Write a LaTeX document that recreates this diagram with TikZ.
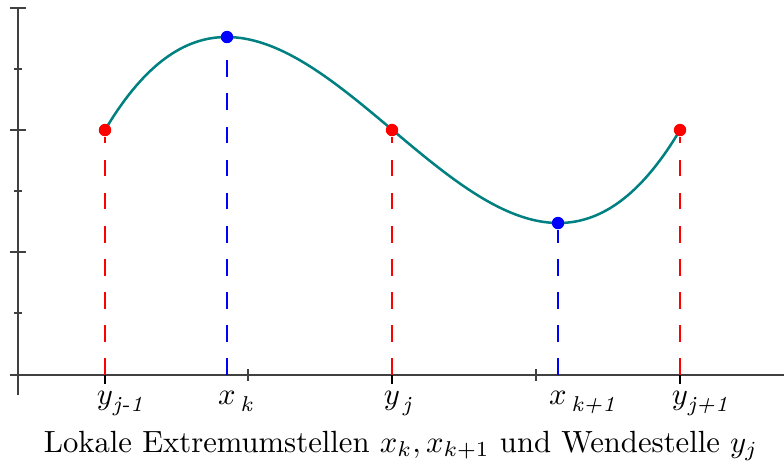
\documentclass[tikz,border=0pt]{standalone}
\usepackage{xcolor}
\usepackage{tikz}
\usetikzlibrary{positioning}
\usepackage{amsmath}
\definecolor{achsgrau}{HTML}{404040}
\definecolor{kurvgruen}{HTML}{008080}
\newcommand{\fuss}[3][0pt]{$#2\rlap{\kern#1\lower0.8pt\hbox{$_{\textit{#3}}$}}$}
\tikzset{
  achse/.style={draw=achsgrau, line width=0.63pt},
  kurve/.style={draw=kurvgruen, line width=0.82pt},
  punkt/.style={circle, inner sep=0pt, minimum size=4.05pt},
  lot/.style={line width=0.6pt, dash pattern=on 5.4pt off 5.4pt},
  marke/.style={inner sep=0pt},
}

\begin{document}
\begin{tikzpicture}[x=0.326pt, y=-0.326pt]
  \useasboundingbox (0,0) rectangle (784,463);
  % achsen
  \coordinate (yunten) at (18,395);
  \coordinate (yoben) at (18,8);
  \coordinate (xlinks) at (10,375);
  \coordinate (xrechts) at (784,375);
  \draw[achse] (yunten) -- (yoben);
  \draw[achse] (xlinks) -- (xrechts);
  \foreach \t in {8,130,252,375} \draw[achse] (10,\t) -- (26,\t);
  \foreach \t in {69,191,313} \draw[achse] (14,\t) -- (22,\t);
  \foreach \t in {248,536} \draw[achse] (\t,369) -- (\t,381);

  % kurve
  \draw[kurve] plot[domain=-1.7321:1.7321, samples=90, smooth, variable=\u]
    ({392.5+166*\u}, {130-46.5*(\u*\u*\u-3*\u)});

  % fusspunkte auf der x-achse
  \coordinate (fym1) at (105,375);
  \coordinate (fxk) at (227,375);
  \coordinate (fyj) at (392,375);
  \coordinate (fxk1) at (558,375);
  \coordinate (fyj1) at (680,375);

  % punkte auf der kurve
  \node[punkt, fill=red] (ym1) at (105,130) {};
  \node[punkt, fill=blue] (xk) at (227,37) {};
  \node[punkt, fill=red] (yj) at (392,130) {};
  \node[punkt, fill=blue] (xk1) at (558,223) {};
  \node[punkt, fill=red] (yj1) at (680,130) {};

  \draw[lot, red] (fym1) -- (ym1);
  \draw[lot, blue] (fxk) -- (xk);
  \draw[lot, red] (fyj) -- (yj);
  \draw[lot, blue] (fxk1) -- (xk1);
  \draw[lot, red] (fyj1) -- (yj1);

  \foreach \f in {fym1,fyj,fyj1} \draw[achse, draw=black] (\f) -- ++(0,9);

  % beschriftung
  \node[marke, below=5.1pt of fym1] (lym1) {\fuss{y}{j-1}};
  \node[marke, below=5.1pt of fxk] (lxk) {\fuss[1.5pt]{x}{k}};
  \node[marke, below=5.1pt of fyj] (lyj) {\fuss[1pt]{y}{j}};
  \node[marke, below=5.1pt of fxk1] (lxk1) {\fuss[1.5pt]{x}{k+1}};
  \node[marke, below=5.1pt of fyj1] (lyj1) {\fuss{y}{j+1}};

  \node[anchor=base] (titel) at (401,452)
    {Lokale Extremumstellen $x_k, x_{k+1}$ und Wendestelle $y_j$};
\end{tikzpicture}
\end{document}
